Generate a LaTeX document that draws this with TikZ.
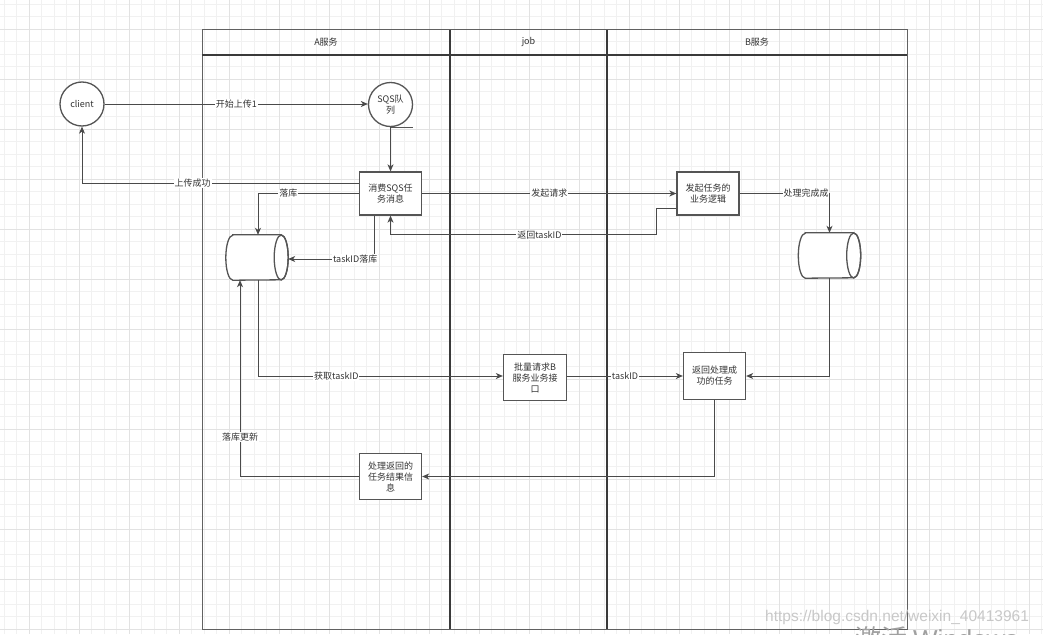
\documentclass[tikz,border=0pt]{standalone}
\usepackage{fontspec}
\setmainfont{Noto Sans CJK SC}
\newfontfamily\wmfont{Liberation Sans}
\usetikzlibrary{arrows.meta,calc}
\definecolor{gridminor}{HTML}{F1F1F1}
\definecolor{gridmajor}{HTML}{E2E2E2}
\definecolor{nodeline}{HTML}{555555}
\definecolor{linec}{HTML}{4A4A4A}
\definecolor{textc}{HTML}{333333}
\definecolor{lanec}{HTML}{3A3A3A}
\definecolor{wmc}{HTML}{C8C8C8}
\newcommand\dfont{\fontsize{9}{11}\selectfont}
\newcommand\hcyl[1]{%
  \draw[nodeline, line width=1.3pt, fill=white]
    ($(#1.north west)+(7,0)$) -- ($(#1.north east)+(-7,0)$)
    arc(90:-90:7pt and 22.5pt) -- ($(#1.south west)+(7,0)$)
    arc(270:90:7pt and 22.5pt) -- cycle;
  \draw[nodeline, line width=1.3pt] ($(#1.east)+(-7,0)$) ellipse (7pt and 22.5pt);
}
\tikzset{
  box/.style={draw=nodeline, line width=1.3pt, fill=white, minimum width=62pt,
    minimum height=43pt, inner sep=1pt, align=center, text=textc, font=\dfont},
  circ/.style={circle, draw=nodeline, line width=1.3pt, fill=white, minimum size=44pt,
    inner sep=1pt, align=center, text=textc, font=\dfont},
  cylbox/.style={rectangle, draw=none, minimum width=62pt, minimum height=45pt, inner sep=0pt},
  conn/.style={draw=linec, line width=1pt, -{Stealth[length=7pt,width=6pt,inset=2pt]}},
  lbl/.style={fill=white, inner sep=0.8pt, text=textc, font=\dfont},
  hdr/.style={text=textc, font=\dfont},
  lane/.style={draw=lanec, line width=1.2pt},
}
\begin{document}
\begin{tikzpicture}[x=1pt,y=-1pt]
\useasboundingbox (0,0) rectangle (1043,634);
\clip (0,0) rectangle (1043,634);
\fill[white] (0,0) rectangle (1043,634);
% grid
\foreach \i in {0,...,83} {\draw[gridminor, line width=0.8pt] ({4+12.5*\i},0) -- ({4+12.5*\i},634);}
\foreach \j in {0,...,50} {\draw[gridminor, line width=0.8pt] (0,{4+12.5*\j}) -- (1043,{4+12.5*\j});}
\foreach \i in {0,...,20} {\draw[gridmajor, line width=0.8pt] ({29+50*\i},0) -- ({29+50*\i},634);}
\foreach \j in {0,...,12} {\draw[gridmajor, line width=0.8pt] (0,{29+50*\j}) -- (1043,{29+50*\j});}
% swimlane table
\draw[draw=lanec!80, line width=1pt] (202,30) rectangle (907,629);
\draw[lane] (202,55) -- (907,55);
\draw[lane] (450,30) -- (450,629);
\draw[lane] (607,30) -- (607,629);
\node[hdr] (hA) at (326,42.5) {A服务};
\node[hdr] (hJ) at (528.5,42.5) {job};
\node[hdr] (hB) at (757,42.5) {B服务};
% nodes
\node[circ] (client) at (82,104) {client};
\node[circ] (sqs) at (390.5,104.5) {SQS队\\列};
\draw[nodeline, line width=1.3pt] (sqs.south) -- (sqs.south -| sqs.east);
\node[box] (msg) at (390.5,193.5) {消费SQS任\\务消息};
\node[box] (biz) at (708,193.5) {发起任务的\\业务逻辑};
\node[cylbox] (cylA) at (257,257.5) {};
\hcyl{cylA}
\node[cylbox] (cylB) at (829.5,255.5) {};
\hcyl{cylB}
\node[box, minimum width=63pt, minimum height=46pt] (batch) at (535,377.5) {批量请求B\\服务业务接\\口};
\node[box, minimum height=47pt] (ret) at (714.5,376) {返回处理成\\功的任务};
\node[box, minimum height=46pt] (proc) at (390.5,476.5) {处理返回的\\任务结果信\\息};
\coordinate (bE) at ($(batch.east)+(0,-1.5)$);
% connectors
\draw[conn] (client.east) -- node[lbl]{开始上传1} (client.east -| sqs.west);
\draw[conn] (sqs.south) -- (msg.north);
\draw[conn] ($(msg.west)+(0,-10.5)$) -| node[lbl,pos=0.3]{上传成功} (client.south);
\draw[conn] (msg.west) -| node[lbl,pos=0.35]{落库} ($(cylA.north)+(1,0)$);
\draw[conn] (msg.east) -- node[lbl]{发起请求} (biz.west);
\draw[conn] ($(biz.west)+(0,14.5)$) -- ++(-20,0) |- node[lbl,pos=0.72]{返回taskID} ($(msg.south)+(0,19)$) -- (msg.south);
\draw[conn] ($(msg.south)+(-16.5,0)$) |- node[lbl,pos=0.61]{taskID落库} ($(cylA.east)+(0,1.5)$);
\draw[conn] ($(cylA.south)+(1,0)$) |- node[lbl,pos=0.66]{获取taskID} ($(batch.west)+(0,-1.5)$);
\draw[conn] (bE) -- node[lbl]{taskID} (bE -| ret.west);
\draw[conn] (cylB.south) |- (ret.east);
\draw[conn] (biz.east) -| node[lbl,pos=0.37]{处理完成成} (cylB.north);
\draw[conn] (ret.south) |- (proc.east);
\draw[conn] (proc.west) -| node[lbl,pos=0.6]{落库更新} ($(cylA.south)+(-17,0)$);
% watermark
\node[anchor=base west, text=wmc, font=\wmfont\fontsize{15.5}{18}\selectfont, inner sep=0pt] (wm) at (765,621) {https://blog.csdn.net/weixin\_40413961};
\node[anchor=base west, text=wmc!80!black, font=\fontsize{26}{30}\selectfont, inner sep=0pt] (win) at (855,648) {激活 \wmfont Windows};
\end{tikzpicture}
\end{document}
